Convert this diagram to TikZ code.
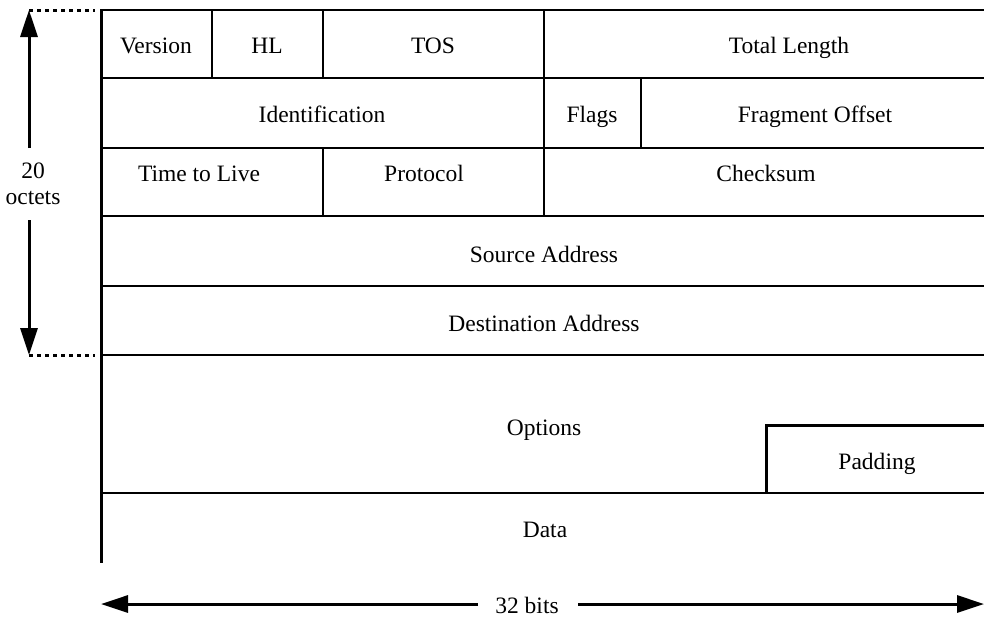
\documentclass[tikz,border=0pt]{standalone}
\usepackage{fontspec}
\setmainfont{Liberation Serif}
\usetikzlibrary{arrows.meta}
\begin{document}
\begin{tikzpicture}[x=1pt,y=-1pt,
  grid/.style={line width=2pt},
  heavy/.style={line width=3pt},
  dots/.style={line width=3pt,dash pattern=on 4pt off 4pt},
  dim/.style={line width=3pt,-{Triangle[length=27pt,width=17pt]}},
  lbl/.style={font=\fontsize{23.5}{28}\selectfont,inner sep=0pt,anchor=base}]
\useasboundingbox (0,0) rectangle (984,619);

% row boundaries of the header
\foreach \y in {78,148,216,286,355,493}
  \draw[grid] (101,\y) -- (984,\y);
\draw[grid] (101,10) -- (984,10);
% left edge of the datagram
\draw[heavy] (101,9) -- (101,563);

% field separators
\draw[grid] (212,10) -- (212,78);
\draw[grid] (323,10) -- (323,78);
\draw[grid] (544,10) -- (544,78);
\draw[grid] (544,78) -- (544,148);
\draw[grid] (641,78) -- (641,148);
\draw[grid] (323,148) -- (323,216);
\draw[grid] (544,148) -- (544,216);
% padding field
\draw[heavy] (766,493) -- (766,425) -- (984,425);

% field labels (placed by baseline)
\node[lbl] (ver) at (156,53) {Version};
\node[lbl] (hl) at (267,53) {HL};
\node[lbl] (tos) at (433,53) {TOS};
\node[lbl] (tlen) at (789,53) {Total Length};
\node[lbl] (ident) at (322,122) {Identification};
\node[lbl] (flags) at (592,122) {Flags};
\node[lbl] (frag) at (815,122) {Fragment Offset};
\node[lbl] (ttl) at (199,181) {Time to Live};
\node[lbl] (proto) at (424,181) {Protocol};
\node[lbl] (cks) at (766,181) {Checksum};
\node[lbl] (src) at (544,262) {Source Address};
\node[lbl] (dst) at (544,331) {Destination Address};
\node[lbl] (opt) at (544,435) {Options};
\node[lbl] (pad) at (877,469) {Padding};
\node[lbl] (data) at (545,537) {Data};

% header length dimension
\draw[dots] (29,10) -- (95,10);
\draw[dots] (29,355) -- (95,355);
\coordinate (htop) at (29,10);
\coordinate (hbot) at (29,355);
\node[lbl] (twenty) at (33,178) {20};
\node[lbl] (oct) at (33,204) {octets};
\draw[dim] (29,148) -- (htop);
\draw[dim] (29,220) -- (hbot);

% width dimension
\coordinate (wl) at (101,604);
\coordinate (wr) at (984,604);
\node[lbl] (bits) at (527,613) {32 bits};
\draw[dim] (478,604) -- (wl);
\draw[dim] (578,604) -- (wr);
\end{tikzpicture}
\end{document}
